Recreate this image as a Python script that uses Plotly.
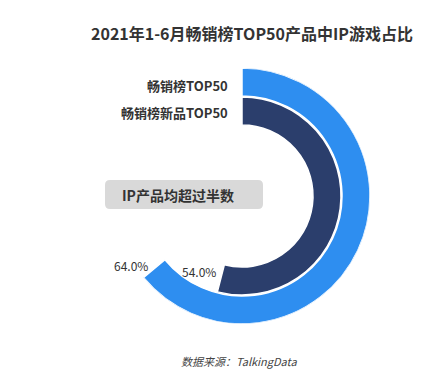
import plotly.graph_objects as go

series = ["畅销榜TOP50", "畅销榜新品TOP50"]
shares = [64.0, 54.0]
share_labels = ["64.0%", "54.0%"]
title = "2021年1-6月畅销榜TOP50产品中IP游戏占比"
callout = "IP产品均超过半数"
source = "数据来源：TalkingData"

W, H = 423, 377
colors = ["#2e8ef0", "#2b3e6c"]
bases = [100, 71]
thick = 28

fig = go.Figure()
for s, v, c, b in zip(series, shares, colors, bases):
    span = v / 100 * 360
    fig.add_trace(go.Barpolar(
        r=[thick], base=[b], theta=[span / 2], width=[span],
        marker=dict(color=c, line=dict(color="white", width=1.5)),
        name=s, showlegend=False, hoverinfo="skip"))

cx, cy, R = 234, 188, 128
fig.update_layout(
    width=W, height=H, margin=dict(l=0, r=0, t=0, b=0),
    paper_bgcolor="white", plot_bgcolor="rgba(0,0,0,0)",
    font=dict(family="Noto Sans CJK SC", color="#333"),
    polar=dict(
        domain=dict(x=[(cx - R) / W, (cx + R) / W], y=[(H - cy - R) / H, (H - cy + R) / H]),
        bgcolor="rgba(0,0,0,0)",
        radialaxis=dict(visible=False, range=[0, R]),
        angularaxis=dict(visible=False, rotation=90, direction="clockwise"),
        barmode="overlay",
    ),
)

def px(x):
    return x / W

def py(y):
    return 1 - y / H

ann = []
ann.append(dict(text="<b>" + title + "</b>", x=px(244), y=py(25), xref="paper", yref="paper",
                showarrow=False, font=dict(size=16, color="#333"), xanchor="center", yanchor="middle"))
label_y = [77, 104]
for s, yy in zip(series, label_y):
    ann.append(dict(text="<b>" + s + "</b>", x=px(222), y=py(yy), xref="paper", yref="paper",
                    showarrow=False, font=dict(size=13, color="#333"), xanchor="right", yanchor="middle"))
lab_pos = [(123, 257), (191, 263)]
for t, (xx, yy) in zip(share_labels, lab_pos):
    ann.append(dict(text=t, x=px(xx), y=py(yy), xref="paper", yref="paper",
                    showarrow=False, font=dict(size=12, color="#333"), xanchor="center", yanchor="middle"))
ann.append(dict(text="<b>" + callout + "</b>", x=px(170), y=py(187), xref="paper", yref="paper",
                showarrow=False, font=dict(size=14, color="#333"), xanchor="center", yanchor="middle"))
ann.append(dict(text="<i>" + source + "</i>", x=px(231), y=py(353), xref="paper", yref="paper",
                showarrow=False, font=dict(size=11, color="#444"), xanchor="center", yanchor="middle"))
fig.update_layout(annotations=ann)

# rounded callout box
x0, x1, y0, y1, rr = 97, 255, 172, 201, 5
def P(x, y):
    return f"{px(x):.5f},{py(y):.5f}"
path = (f"M {P(x0 + rr, y0)} L {P(x1 - rr, y0)} Q {P(x1, y0)} {P(x1, y0 + rr)} "
        f"L {P(x1, y1 - rr)} Q {P(x1, y1)} {P(x1 - rr, y1)} L {P(x0 + rr, y1)} "
        f"Q {P(x0, y1)} {P(x0, y1 - rr)} L {P(x0, y0 + rr)} Q {P(x0, y0)} {P(x0 + rr, y0)} Z")
fig.add_shape(type="path", path=path, xref="paper", yref="paper",
              fillcolor="#d9d9d9", line=dict(width=0), layer="below")

fig.write_html("out.html")
